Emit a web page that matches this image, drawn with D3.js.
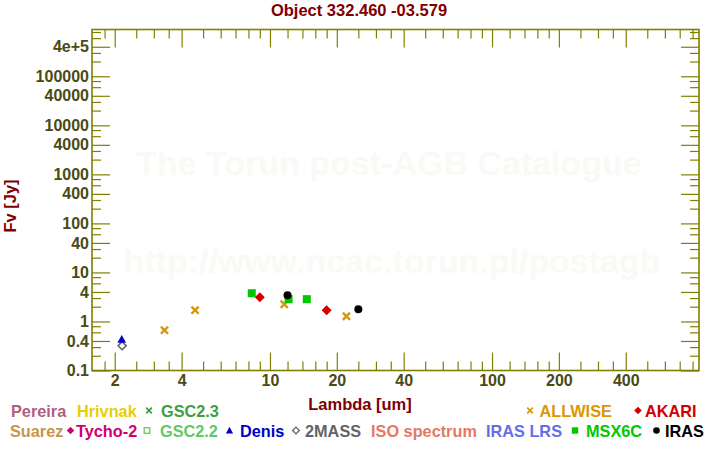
<!DOCTYPE html>
<html><head><meta charset="utf-8">
<script src="https://cdn.jsdelivr.net/npm/d3@7"></script>
<style>
body{margin:0;background:#fff;}
svg{display:block;font-family:"Liberation Sans",Arial,sans-serif;font-weight:bold;}
</style></head>
<body><svg id="c" width="720" height="450"></svg>
<script>
// ---- data ----
const title = "Object 332.460 -03.579";
const xLabel = "Lambda [um]";
const yLabel = "Fv [Jy]";

const xMajorTicks = [2, 4, 10, 20, 40, 100, 200, 400];
const xMinorTicks = [1.8, 2.5, 3, 3.5, 5, 6, 7, 8, 9, 12, 14, 16, 18, 25, 30, 35, 50, 60, 70, 80, 90, 120, 140, 160, 180, 250, 300, 350, 500, 600, 700, 800];
const yMajorTicks = [0.1, 0.4, 1, 4, 10, 40, 100, 400, 1000, 4000, 10000, 40000, 100000, 400000];
const yTickLabels = ["0.1", "0.4", "1", "4", "10", "40", "100", "400", "1000", "4000", "10000", "40000", "100000", "4e+5"];
const yMinorTicks = [0.2, 0.3, 0.6, 0.8, 2, 3, 6, 8, 20, 30, 60, 80, 200, 300, 600, 800, 2000, 3000, 6000, 8000, 20000, 30000, 60000, 80000, 200000, 300000, 600000, 800000];

const allwiseLambda = [3.35, 4.6, 11.6, 22.1];
const allwiseFlux   = [0.665, 1.70, 2.25, 1.28];
const akariLambda   = [9, 18];
const akariFlux     = [3.12, 1.70];
const msxLambda     = [8.28, 12.13, 14.65];
const msxFlux       = [3.77, 2.85, 2.85];
const irasLambda    = [12, 25];
const irasFlux      = [3.43, 1.78];
const denisLambda   = [2.15];
const denisFlux     = [0.43];
const tmassLambda   = [2.16];
const tmassFlux     = [0.32];

const legendNames  = ["Pereira","Hrivnak","GSC2.3","ALLWISE","AKARI","Suarez","Tycho-2","GSC2.2","Denis","2MASS","ISO spectrum","IRAS LRS","MSX6C","IRAS"];
const legendColors = ["#b0607f","#e6cf00","#3f9f3f","#dc9600","#d20000","#c8964a","#d2006e","#64c864","#0000c8","#646464","#e67864","#646ee6","#00c800","#000000"];

// ---- layout ----
const L = 92, R = 699, T = 29.5, B = 370.5;
const olive = "#808000", tickText = "#4a4a14", darkRed = "#800000";
const svg = d3.select("#c");
const x = d3.scaleLog().domain([1.58, 855]).range([L, R]);
const y = d3.scaleLog().domain([0.1, 9e5]).range([B, T]);

// title
svg.append("text").attr("x", 359).attr("y", 16).attr("text-anchor","middle")
  .attr("fill", darkRed).attr("font-size", 16.5).text(title);

// watermark
svg.append("text").attr("x", 389).attr("y", 175).attr("text-anchor","middle")
  .attr("fill","#faf9f5").attr("font-size",34).text("The Torun post-AGB Catalogue");
svg.append("text").attr("x", 392).attr("y", 273).attr("text-anchor","middle")
  .attr("fill","#faf9f5").attr("font-size",34).text("http://www.ncac.torun.pl/postagb");

// axes
function styleAxis(g){
  g.select(".domain").remove();
  g.selectAll(".tick line").attr("stroke", olive).attr("stroke-width", 1.2);
  g.selectAll(".tick text").attr("fill", tickText).attr("font-size", 16)
    .attr("font-family","Liberation Sans, Arial, sans-serif").attr("font-weight","bold");
}
const xfmt = d => String(d);
svg.append("g").attr("transform",`translate(0,${B})`)
  .call(d3.axisBottom(x).tickValues(xMajorTicks).tickFormat(xfmt).tickSizeInner(-18).tickSizeOuter(0).tickPadding(4.5)).call(styleAxis);
svg.append("g").attr("transform",`translate(0,${B})`)
  .call(d3.axisBottom(x).tickValues(xMinorTicks).tickFormat("").tickSizeInner(-9).tickSizeOuter(0)).call(styleAxis);
svg.append("g").attr("transform",`translate(0,${T})`)
  .call(d3.axisTop(x).tickValues(xMajorTicks).tickFormat("").tickSizeInner(-18).tickSizeOuter(0)).call(styleAxis);
svg.append("g").attr("transform",`translate(0,${T})`)
  .call(d3.axisTop(x).tickValues(xMinorTicks).tickFormat("").tickSizeInner(-9).tickSizeOuter(0)).call(styleAxis);

svg.append("g").attr("transform",`translate(${L},0)`)
  .call(d3.axisLeft(y).tickValues(yMajorTicks).tickFormat((d,i)=>yTickLabels[i]).tickSizeInner(-18).tickSizeOuter(0).tickPadding(3)).call(styleAxis);
svg.append("g").attr("transform",`translate(${L},0)`)
  .call(d3.axisLeft(y).tickValues(yMinorTicks).tickFormat("").tickSizeInner(-9).tickSizeOuter(0)).call(styleAxis);
svg.append("g").attr("transform",`translate(${R},0)`)
  .call(d3.axisRight(y).tickValues(yMajorTicks).tickFormat("").tickSizeInner(-18).tickSizeOuter(0)).call(styleAxis);
svg.append("g").attr("transform",`translate(${R},0)`)
  .call(d3.axisRight(y).tickValues(yMinorTicks).tickFormat("").tickSizeInner(-9).tickSizeOuter(0)).call(styleAxis);

svg.append("rect").attr("x",L).attr("y",T).attr("width",R-L).attr("height",B-T)
  .attr("fill","none").attr("stroke",olive).attr("stroke-width",1.6);

// axis titles
svg.append("text").attr("x", 360).attr("y", 410).attr("text-anchor","middle")
  .attr("fill", darkRed).attr("font-size", 16.5).text(xLabel);
svg.append("text").attr("transform","translate(16,206) rotate(-90)").attr("text-anchor","middle")
  .attr("fill", darkRed).attr("font-size", 16.5).text(yLabel);

// markers
const plot = svg.append("g");
function pts(lams, fl){ return lams.map((l,i)=>({l, f: fl[i]})); }
const colorOf = n => legendColors[legendNames.indexOf(n)];

function crossPath(s){ return `M${-s},${-s}L${s},${s}M${-s},${s}L${s},${-s}`; }

plot.selectAll(".aw").data(pts(allwiseLambda, allwiseFlux)).join("path")
  .attr("transform", d=>`translate(${x(d.l)},${y(d.f)})`).attr("d", crossPath(3.6))
  .attr("stroke", colorOf("ALLWISE")).attr("stroke-width", 2.4).attr("fill","none");
plot.selectAll(".msx").data(pts(msxLambda, msxFlux)).join("rect")
  .attr("x", d=>x(d.l)-4).attr("y", d=>y(d.f)-4).attr("width",8).attr("height",8)
  .attr("fill", colorOf("MSX6C"));
plot.selectAll(".ak").data(pts(akariLambda, akariFlux)).join("path")
  .attr("transform", d=>`translate(${x(d.l)},${y(d.f)})`).attr("d","M0,-5L5,0L0,5L-5,0Z")
  .attr("fill", colorOf("AKARI"));
plot.selectAll(".ir").data(pts(irasLambda, irasFlux)).join("circle")
  .attr("cx", d=>x(d.l)).attr("cy", d=>y(d.f)).attr("r",4).attr("fill", colorOf("IRAS"));
plot.selectAll(".tm").data(pts(tmassLambda, tmassFlux)).join("path")
  .attr("transform", d=>`translate(${x(d.l)},${y(d.f)})`).attr("d","M0,-4L4,0L0,4L-4,0Z")
  .attr("fill","none").attr("stroke", colorOf("2MASS")).attr("stroke-width",1.6);
plot.selectAll(".de").data(pts(denisLambda, denisFlux)).join("path")
  .attr("transform", d=>`translate(${x(d.l)},${y(d.f)})`).attr("d","M0,-4.5L4.3,3.2L-4.3,3.2Z")
  .attr("fill", colorOf("Denis"));

// legend
const legendX   = [11, 77, 161, 539.5, 645, 10, 76, 160, 240, 305, 371, 486, 586, 665];
const legendRow = [0, 0, 0, 0, 0, 1, 1, 1, 1, 1, 1, 1, 1, 1];
const legendSym = ["", "", "x", "x", "D", "", "D", "s", "t", "d", "", "", "S", "c"];
const legendSymX = [0, 0, 149, 530, 638, 0, 70.5, 147, 229.5, 296, 0, 0, 575, 656.5];
const rowY = [416.5, 436.5];
const lg = svg.append("g");
legendNames.forEach((n,i)=>{
  const by = rowY[legendRow[i]];
  lg.append("text").attr("x", legendX[i]).attr("y", by).attr("fill", legendColors[i])
    .attr("font-size",16.3).text(n);
  const s = legendSym[i], cx = legendSymX[i], cy = by - 6;
  const c = legendColors[i];
  if (s === "x") lg.append("path").attr("transform",`translate(${cx},${cy})`).attr("d",crossPath(2.8)).attr("stroke",c).attr("stroke-width",1.7);
  if (s === "D") lg.append("path").attr("transform",`translate(${cx},${cy})`).attr("d","M0,-3.8L3.8,0L0,3.8L-3.8,0Z").attr("fill",c);
  if (s === "d") lg.append("path").attr("transform",`translate(${cx},${cy})`).attr("d","M0,-3.4L3.4,0L0,3.4L-3.4,0Z").attr("fill","none").attr("stroke",c).attr("stroke-width",1.3);
  if (s === "s") lg.append("rect").attr("x",cx-2.8).attr("y",cy-2.8).attr("width",5.6).attr("height",5.6).attr("fill","none").attr("stroke",c).attr("stroke-width",1.3);
  if (s === "S") lg.append("rect").attr("x",cx-3.2).attr("y",cy-3.2).attr("width",6.4).attr("height",6.4).attr("fill",c);
  if (s === "t") lg.append("path").attr("transform",`translate(${cx},${cy})`).attr("d","M0,-3.8L3.6,3L-3.6,3Z").attr("fill",c);
  if (s === "c") lg.append("circle").attr("cx",cx).attr("cy",cy).attr("r",3.3).attr("fill",c);
});
</script></body></html>
